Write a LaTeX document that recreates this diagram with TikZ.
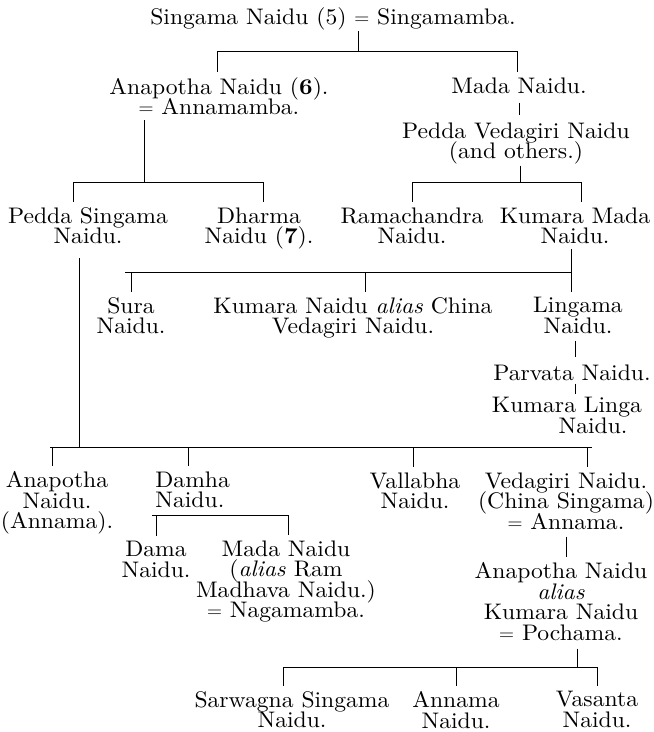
\documentclass[tikz,border=0pt]{standalone}
\usepackage{fontspec}
\usepackage{tikz}
\newfontfamily\personfamily{lmroman10-regular.otf}[FakeStretch=1.05,
  BoldFont=lmroman10-bold.otf, ItalicFont=lmroman10-italic.otf]
\newcommand\personfont{\personfamily\fontsize{22.5}{20.5}\selectfont\lineskiplimit=-50pt\relax}
\tikzset{person/.style={align=center, inner sep=1pt, anchor=north,
    font=\personfont},
  drop/.style={shorten >=4pt}
}

\begin{document}
\begin{tikzpicture}[x=1pt, y=-1pt, line width=0.8pt]
      \useasboundingbox (0,0) rectangle (654,732);
      % people
      \node[person] (singama) at (333,6) {Singama Naidu (5) $=$ Singamamba.};
      \node[person] (anapotha6) at (219,76) {Anapotha Naidu (\textbf{6}).\\$=$ Annamamba.};
      \node[person] (mada) at (519,76) {Mada Naidu.};
      \node[person] (peddavedagiri) at (516,121) {Pedda Vedagiri Naidu\\(and others.)};
      \node[person] (peddasingama) at (88,206) {Pedda Singama\\Naidu.};
      \node[person] (dharma) at (259,206) {Dharma\\Naidu (\textbf{7}).};
      \node[person] (rama) at (412,206) {Ramachandra\\Naidu.};
      \node[person] (kumaramada) at (575,206) {Kumara Mada\\Naidu.};
      \node[person] (sura) at (131,296) {Sura\\Naidu.};
      \node[person] (kumaranaidu) at (353,296) {Kumara Naidu \emph{alias} China\\Vedagiri Naidu.};
      \node[person] (lingama) at (578,296) {Lingama\\Naidu.};
      \node[person] (parvata) at (572,363) {Parvata Naidu.};
      \node[person] (kumaralinga) at (567,396) {Kumara Linga\\\hspace*{52pt}Naidu.};
      \node[person] (anapotha) at (57,470) {Anapotha\\Naidu.\\(Annama).};
      \node[person, align=left, anchor=north west] (damha) at (154,470) {Damha\\Naidu.};
      \node[person] (vallabha) at (415,471) {Vallabha\\Naidu.};
      \node[person] (vedagiri) at (566,471) {Vedagiri Naidu.\\(China Singama)\\$=$ Annama.};
      \node[person] (dama) at (156,540) {Dama\\Naidu.};
      \node[person] (madanaidu) at (286,539) {Mada Naidu\\(\emph{alias} Ram\\Madhava Naidu.)\\$=$ Nagamamba.};
      \node[person] (anapothaalias) at (561,561) {Anapotha Naidu\\\emph{alias}\\Kumara Naidu\\$=$ Pochama.};
      \node[person] (sarwagna) at (292,690) {Sarwagna Singama\\Naidu.};
      \node[person] (annama) at (456,690) {Annama\\Naidu.};
      \node[person] (vasanta) at (597,690) {Vasanta\\Naidu.};
      % junctions
      \coordinate (j1) at (358,51);
      \coordinate (j2) at (144,182);
      \coordinate (j3) at (520,182);
      \coordinate (j4) at (571,272);
      \coordinate (j5) at (79,447);
      \coordinate (j6) at (220,515);
      \coordinate (j7) at (577,667);
      % Singama Naidu
      \draw (singama.south -| j1) -- (j1);
      \draw ([xshift=-2pt]anapotha6.north |- j1) -- ([xshift=-2pt]mada.north |- j1);
      \draw[drop] ([xshift=-2pt]anapotha6.north |- j1) -- ([xshift=-2pt]anapotha6.north);
      \draw[drop] ([xshift=-2pt]mada.north |- j1) -- ([xshift=-2pt]mada.north);
      % Anapotha Naidu (6)
      \draw[shorten <=4pt] (anapotha6.south -| j2) -- (j2);
      \draw ([xshift=-15pt]peddasingama.north |- j2) -- ([xshift=4pt]dharma.north |- j2);
      \draw[drop] ([xshift=-15pt]peddasingama.north |- j2) -- ([xshift=-15pt]peddasingama.north);
      \draw[drop] ([xshift=4pt]dharma.north |- j2) -- ([xshift=4pt]dharma.north);
      % Mada Naidu
      \draw[shorten <=8pt, shorten >=6pt] (mada.south) -- (mada.south |- peddavedagiri.north);
      \draw (peddavedagiri.south -| j3) -- (j3);
      \draw (rama.north |- j3) -- ([xshift=6pt]kumaramada.north |- j3);
      \draw[drop] (rama.north |- j3) -- (rama.north);
      \draw[drop] ([xshift=6pt]kumaramada.north |- j3) -- ([xshift=6pt]kumaramada.north);
      % Kumara Mada Naidu
      \draw[shorten <=4pt] (kumaramada.south -| j4) -- (j4);
      \draw ([xshift=-6pt]sura.north |- j4) -- (j4);
      \draw[drop] (sura.north |- j4) -- (sura.north);
      \draw[drop] ([xshift=12pt]kumaranaidu.north |- j4) -- ([xshift=12pt]kumaranaidu.north);
      \draw[drop] (j4) -- (lingama.north -| j4);
      \draw[shorten <=6pt, shorten >=6pt] ([xshift=-3pt]lingama.south) -- ([xshift=-3pt]lingama.south |- parvata.north);
      \draw[shorten <=2pt, shorten >=2pt] ([xshift=3pt]parvata.south) -- ([xshift=3pt]parvata.south |- kumaralinga.north);
      % Kumara Linga Naidu
      \draw[shorten <=13pt] (peddasingama.south -| j5) -- (j5);
      \draw ([xshift=-7pt]anapotha.north |- j5) -- ([xshift=25pt]kumaralinga.south |- j5);
      \draw[drop] ([xshift=-5pt]anapotha.north |- j5) -- ([xshift=-5pt]anapotha.north);
      \draw[drop] ([xshift=-4pt]damha.north |- j5) -- ([xshift=-4pt]damha.north);
      \draw[drop] ([xshift=-2pt]vallabha.north |- j5) -- ([xshift=-2pt]vallabha.north);
      \draw[drop] ([xshift=21pt]vedagiri.north |- j5) -- ([xshift=21pt]vedagiri.north);
      % Damha Naidu
      \draw ([xshift=-4pt]dama.north |- j6) -- ([xshift=2pt]madanaidu.north |- j6);
      \draw[drop] (dama.north |- j6) -- (dama.north);
      \draw[drop] ([xshift=2pt]madanaidu.north |- j6) -- ([xshift=2pt]madanaidu.north);
      % Vedagiri Naidu
      \draw[shorten <=6pt, shorten >=4pt] (vedagiri.south) -- (vedagiri.south |- anapothaalias.north);
      % Anapotha Naidu alias Kumara Naidu
      \draw[shorten <=7pt] (anapothaalias.south -| j7) -- (j7);
      \draw ([xshift=-9pt]sarwagna.north |- j7) -- (vasanta.north |- j7);
      \draw[drop] ([xshift=-9pt]sarwagna.north |- j7) -- ([xshift=-9pt]sarwagna.north);
      \draw[drop] (annama.north |- j7) -- (annama.north);
      \draw[drop] (vasanta.north |- j7) -- (vasanta.north);
    \end{tikzpicture}
\end{document}
